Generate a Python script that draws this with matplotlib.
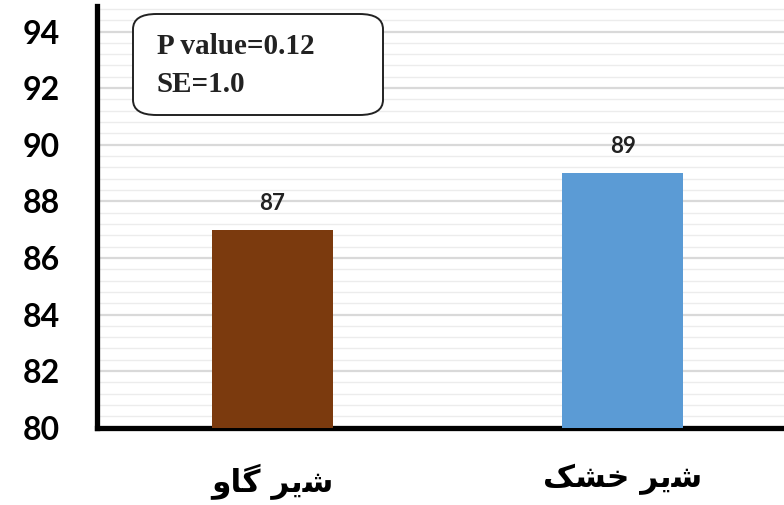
import matplotlib
matplotlib.use("Agg")
import matplotlib.pyplot as plt
from matplotlib.patches import FancyBboxPatch
from matplotlib.ticker import MultipleLocator

# Persian labels given as presentation forms in visual order (matplotlib does no shaping)
categories = ["\uFEED\uFE8E\uFB94 \uFEAE\uFBFE\uFEB7",   # شیر گاو
              "\uFB8F\uFEB8\uFEA7 \uFEAE\uFBFE\uFEB7"]   # شیر خشک
values = [87, 89]
colors = ["#7B3A0E", "#5B9BD5"]
yticks = [80, 82, 84, 86, 88, 90, 92, 94]
note_lines = ["P value=0.12", "SE=1.0"]

fig = plt.figure(figsize=(7.84, 5.05), dpi=100)
ax = fig.add_axes([0.124, 0.153, 0.876, 0.835])

x = list(range(len(categories)))
ax.bar(x, values, width=0.345, color=colors, zorder=3)
for xi, v in zip(x, values):
    ax.text(xi, v + 0.55, f"{v}", ha="center", va="bottom", fontsize=16,
            fontweight="bold", family="Lato", color="#222222")

ax.set_ylim(80, 94.9)
ax.set_xlim(-0.5, 1.46)
ax.set_yticks(yticks)
ax.yaxis.set_minor_locator(MultipleLocator(0.4))
ax.grid(axis="y", which="major", color="#d9d9d9", lw=1.6, zorder=0)
ax.grid(axis="y", which="minor", color="#ececec", lw=1.0, zorder=0)
ax.tick_params(axis="both", which="both", length=0)
ax.tick_params(axis="y", pad=27)
ax.tick_params(axis="x", pad=26)
ax.set_yticklabels([str(t) for t in yticks], fontsize=23, fontweight="bold", family="Lato")
ax.set_xticks(x)
ax.set_xticklabels(categories, fontsize=22.5, fontweight="bold", family="DejaVu Sans")

for s in ["top", "right"]:
    ax.spines[s].set_visible(False)
ax.spines["left"].set_linewidth(3.8)
ax.spines["bottom"].set_linewidth(3.8)

box = FancyBboxPatch((133 / 784, 1 - 115 / 505), 250 / 784, 101 / 505,
                     boxstyle="round,pad=0,rounding_size=0.03",
                     transform=fig.transFigure, facecolor="white",
                     edgecolor="#222222", lw=1.4, zorder=5)
fig.add_artist(box)
for i, line in enumerate(note_lines):
    fig.text(157 / 784, 1 - (47 + i * 37) / 505, line, fontsize=21, fontweight="bold",
             family="Liberation Serif", va="center", ha="left", color="#222222", zorder=6)

fig.savefig("out.png", dpi=100, facecolor="white")
